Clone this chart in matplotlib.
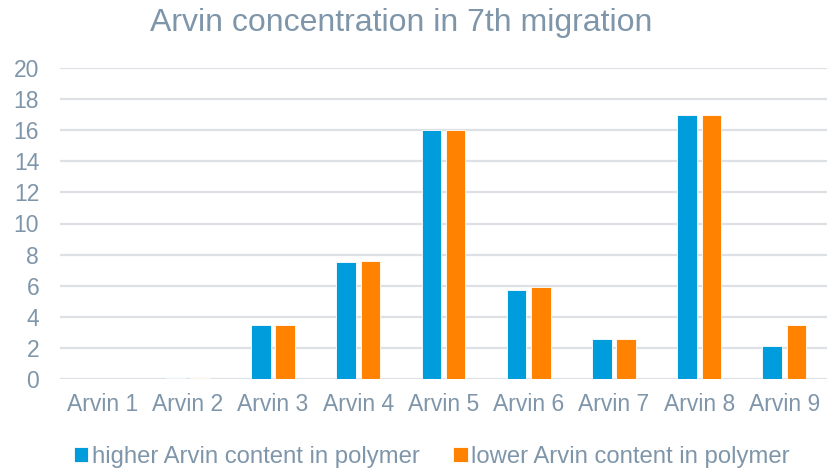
import numpy as np
import matplotlib.pyplot as plt

plt.rcParams['font.family'] = ['Liberation Sans', 'DejaVu Sans']

cats = ['Arvin 1', 'Arvin 2', 'Arvin 3', 'Arvin 4', 'Arvin 5',
        'Arvin 6', 'Arvin 7', 'Arvin 8', 'Arvin 9']
higher = [0, 0.05, 3.5, 7.5, 16, 5.7, 2.6, 17, 2.1]
lower = [0, 0.05, 3.5, 7.6, 16, 5.9, 2.6, 17, 3.5]

txt = '#7f96aa'
blue = '#009ddc'
orange = '#ff8300'

fig = plt.figure(figsize=(8.27, 4.70), dpi=100)
ax = fig.add_axes([60/827, 1 - 379/470, 767/827, (379 - 68)/470])

x = np.arange(len(cats))
w = 0.23
ax.bar(x - 0.143, higher, w, color=blue, edgecolor='white', linewidth=0.6,
       label='higher Arvin content in polymer', zorder=3)
ax.bar(x + 0.143, lower, w, color=orange, edgecolor='white', linewidth=0.6,
       label='lower Arvin content in polymer', zorder=3)

ax.set_xlim(-0.5, len(cats) - 0.5)
ax.set_ylim(0, 20)
ax.set_yticks(range(0, 21, 2))
ax.set_xticks(x)
ax.set_xticklabels(cats)
ax.grid(axis='y', color='#dde1e6', linewidth=1.6, zorder=0)
ax.tick_params(length=0, colors=txt, labelsize=16.5)
ax.tick_params(axis='x', pad=10)
ax.tick_params(axis='y', pad=15)
for s in ax.spines.values():
    s.set_visible(False)

fig.suptitle('Arvin concentration in 7th migration', color=txt, fontsize=23,
             y=1 - 23/470, va='center', x=401/827)

fig.legend(loc='center', bbox_to_anchor=(432/827, 1 - 457/470), ncol=2,
           frameon=False, fontsize=17.2, labelcolor=txt, handlelength=0.6,
           handleheight=0.6, handletextpad=0.15, columnspacing=1.4)

plt.savefig('out.png', dpi=100)
